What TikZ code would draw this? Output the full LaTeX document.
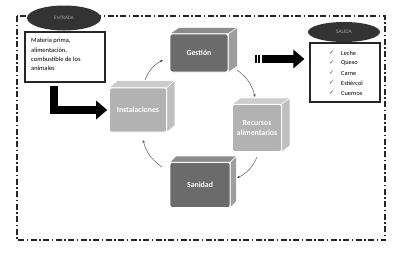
\documentclass[tikz,border=0pt]{standalone}
\usepackage{fontspec}
\setmainfont{Carlito}
\newfontfamily\djv{DejaVu Sans}
\usetikzlibrary{arrows.meta,shapes.geometric}
\tikzset{
  frontface/.style={rounded corners=2.5pt, inner sep=1pt, align=center, text=white,
     font=\fontsize{7.8}{8.8}\selectfont\bfseries},
  darkbox/.style={frontface, fill=black!58, draw=white, line width=0.6pt},
  lightbox/.style={frontface, fill=black!30, draw=white, line width=0.6pt},
  cyclearrow/.style={draw=black!65, line width=0.5pt, -{Stealth[length=3pt,width=2.6pt]}},
  tag/.style={ellipse, fill=black!80, text=black!35, inner sep=0pt,
     font=\fontsize{5}{6}\selectfont},
  listbox/.style={draw=black!85, line width=1.1pt, fill=white, inner sep=0pt},
  bigarrow/.style={line width=8pt, -{Triangle[length=11pt,width=18pt]}},
}
\newcommand\cubefaces[5]{% name, dx, dy, top colour, side colour
  \fill[#4, draw=white, line width=0.5pt]
    (#1.north west) -- ++(#2,#3) -- ([shift={(#2,#3)}]#1.north east) -- (#1.north east) -- cycle;
  \fill[#5, draw=white, line width=0.5pt]
    (#1.north east) -- ++(#2,#3) -- ([shift={(#2,#3)}]#1.south east) -- (#1.south east) -- cycle;
}
\begin{document}
\begin{tikzpicture}[x=1pt,y=-1pt]
\useasboundingbox (0,0) rectangle (408,260);
\fill[white] (0,0) rectangle (408,260);

% outer dash-dot frame
\draw[black!85, line width=1.3pt, dash pattern=on 6pt off 2.5pt on 1.5pt off 2.5pt]
  (17,16) rectangle (385,240);

% ENTRADA
\node[listbox, minimum width=80pt, minimum height=50pt] (inbox) at (65,57) {};
\node[anchor=north west, align=left, inner sep=0pt, font=\fontsize{6.5}{9.4}\selectfont]
  (intext) at (31,38) {Materia prima,\\alimentación,\\combustible de los\\animales};
\node[tag, minimum width=74pt, minimum height=25pt] (entrada) at (64,18) {ENTRADA};

% SALIDA
\node[listbox, minimum width=70pt, minimum height=59pt] (outbox) at (345,72.5) {};
\node[tag, minimum width=72pt, minimum height=20pt, font=\fontsize{5.5}{6}\selectfont] (salida) at (344,32) {SALIDA};
\foreach \t [count=\i] in {Leche,Queso,Carne,Estiércol,Cuernos}{
  \node[anchor=west, inner sep=0pt, text=black!70, font=\djv\fontsize{6}{7}\selectfont]
     (chk\i) at (329,43+10*\i) {✓};
  \node[anchor=west, inner sep=0pt, font=\fontsize{6.3}{7}\selectfont]
     (out\i) at (341,43+10*\i) {\t};
}

% cubes
\node[darkbox, minimum width=58pt, minimum height=38pt] (gest) at (199,53) {Gestión};
\cubefaces{gest}{9}{-6}{black!45}{black!38}
\node[lightbox, minimum width=57pt, minimum height=44pt] (inst) at (138,110) {Instalaciones};
\cubefaces{inst}{8}{-7}{black!20}{black!25}
\node[lightbox, minimum width=49pt, minimum height=47pt] (recu) at (257,128) {Recursos\\[1pt]alimentarios};
\cubefaces{recu}{8}{-6}{black!20}{black!25}
\node[darkbox, minimum width=60pt, minimum height=45pt] (sani) at (200,185) {Sanidad};
\cubefaces{sani}{6}{-6}{black!45}{black!38}

% cycle arrows
\coordinate (c1s) at (145,80);  \coordinate (c1e) at (163,60);
\coordinate (c2s) at (237,70);  \coordinate (c2e) at (255,97);
\coordinate (c3s) at (257,157); \coordinate (c3e) at (237,178);
\coordinate (c4s) at (162,167); \coordinate (c4e) at (143,140);
\draw[cyclearrow] (c1s) to[bend left=20] (c1e);
\draw[cyclearrow] (c2s) to[bend left=20] (c2e);
\draw[cyclearrow] (c3s) to[bend left=20] (c3e);
\draw[cyclearrow] (c4s) to[bend left=20] (c4e);

% L arrow from input to Instalaciones
\coordinate (lstart) at (54,86);
\draw[bigarrow] (lstart) |- ([xshift=-2pt]inst.west);

% striped arrow to output
\fill (254.5,55) rectangle (256.5,63);
\fill (258,55) rectangle (260,63);
\coordinate (rtail) at (261.5,59);
\draw[bigarrow] (rtail) -- ([xshift=-5pt]outbox.west |- rtail);
\end{tikzpicture}
\end{document}
